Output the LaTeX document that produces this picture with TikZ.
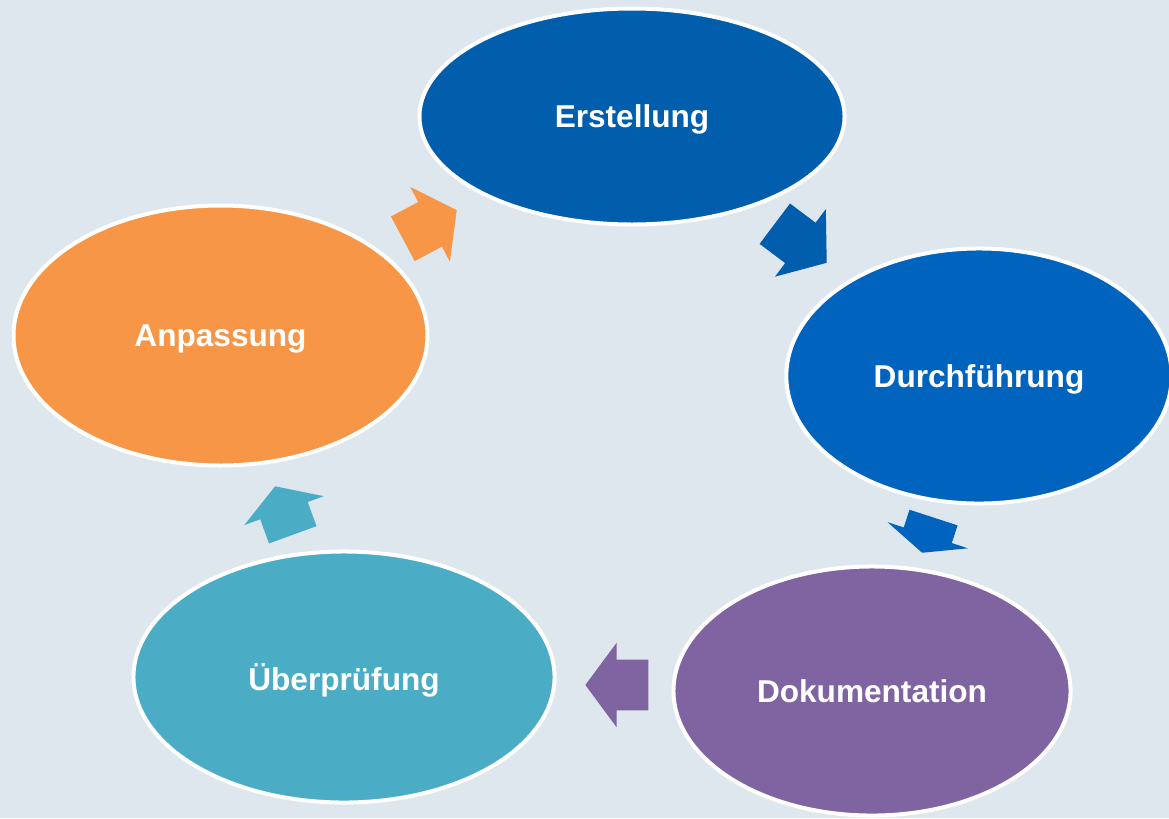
\documentclass[tikz,border=0pt]{standalone}
\usepackage{fontspec}
\setmainfont{Liberation Sans}
\usetikzlibrary{shapes.geometric,shapes.arrows}

\definecolor{hintergrund}{RGB}{222,230,238}
\definecolor{dunkelblau}{RGB}{0,94,172}
\definecolor{mittelblau}{RGB}{0,99,190}
\definecolor{lila}{RGB}{128,100,161}
\definecolor{tuerkis}{RGB}{75,172,198}
\definecolor{orangeton}{RGB}{247,150,70}

\tikzset{
  phase/.style={ellipse, draw=white, line width=3pt, inner sep=0pt,
    text=white, text depth=0pt, font=\fontsize{23.7}{28}\selectfont\bfseries},
  pfeil/.style={single arrow, draw=none, anchor=tip,
    inner xsep=0pt, inner ysep=18.75pt,
    minimum width=63pt, single arrow head extend=12.75pt},
}

\begin{document}
\begin{tikzpicture}[x=0.75pt,y=-0.75pt]
  \useasboundingbox (0,0) rectangle (1169,818);
  \fill[hintergrund] (0,0) rectangle (1169,818);

  % Phasen
  \node[phase, fill=dunkelblau, minimum width=318.8pt, minimum height=162pt] (erstellung) at (632,116.5) {Erstellung};
  \node[phase, fill=mittelblau, minimum width=289pt, minimum height=191.3pt] (durchfuehrung) at (979,376) {Durchführung};
  \node[phase, fill=lila, minimum width=297.8pt, minimum height=186.8pt] (dokumentation) at (872,691) {Dokumentation};
  \node[phase, fill=tuerkis, minimum width=315.8pt, minimum height=188.3pt] (ueberpruefung) at (344,677) {Überprüfung};
  \node[phase, fill=orangeton, minimum width=310.5pt, minimum height=195pt] (anpassung) at (220.5,335.5) {Anpassung};

  % Pfeile
  \node[pfeil, fill=orangeton, rotate=28, minimum height=45.75pt, single arrow tip angle=109] (pfeilA) at (457,210) {};
  \node[pfeil, fill=dunkelblau, rotate=-37, minimum height=48.75pt, single arrow tip angle=104] (pfeilB) at (827,263) {};
  \node[pfeil, fill=mittelblau, rotate=-108, minimum height=27.75pt, single arrow tip angle=133] (pfeilC) at (922,553) {};
  \node[pfeil, fill=lila, rotate=180, minimum height=47.25pt, single arrow tip angle=107] (pfeilD) at (585,685) {};
  \node[pfeil, fill=tuerkis, rotate=110, minimum height=38.7pt, single arrow tip angle=117] (pfeilE) at (275,486) {};
\end{tikzpicture}
\end{document}
